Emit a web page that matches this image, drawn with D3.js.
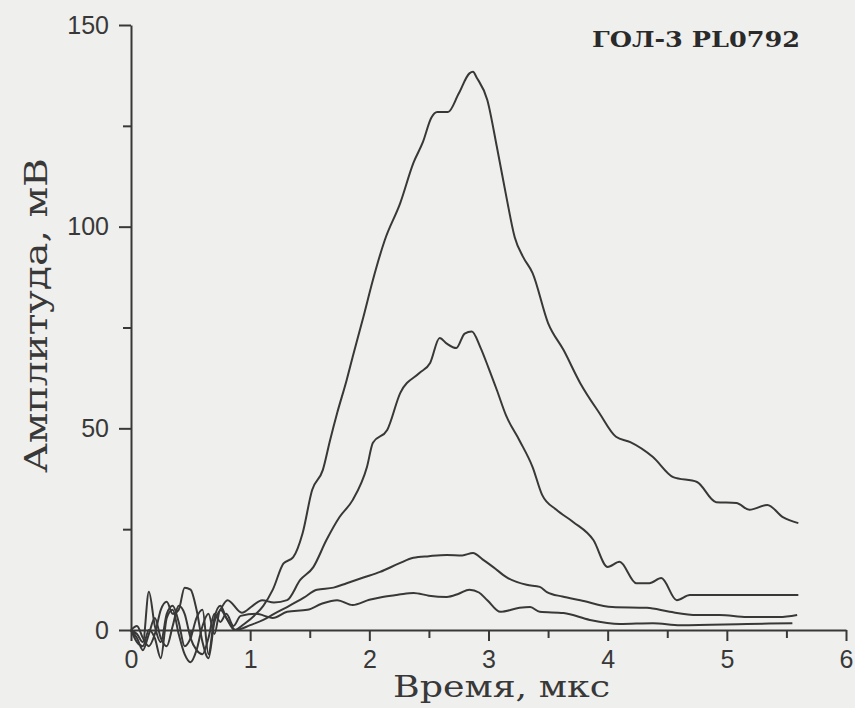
<!DOCTYPE html>
<html>
<head>
<meta charset="utf-8">
<script src="https://cdn.jsdelivr.net/npm/d3@7"></script>
<style>
  html, body { margin: 0; padding: 0; background: #efefed; }
  svg { display: block; }
</style>
</head>
<body>
<svg id="chart" width="855" height="708"></svg>
<script>
// ---- data (time in µs, amplitude in mV) ----
const titleText = "ГОЛ-3 PL0792";
const xLabel = "Время, мкс";
const yLabel = "Амплитуда, мВ";
const xMajorTicks = [0, 1, 2, 3, 4, 5, 6];
const xMinorTicks = [0.5, 1.5, 2.5, 3.5, 4.5, 5.5];
const yMajorTicks = [0, 50, 100, 150];
const yMinorTicks = [25, 75, 125];

const tA = [0,0.05,0.1,0.15,0.2,0.25,0.3,0.35,0.4,0.45,0.5,0.55,0.6,0.65,0.7,0.75,0.8,0.87,0.95,1.05,1.11,1.19,1.28,1.36,1.44,1.52,1.61,1.67,1.73,1.81,1.86,1.95,2.03,2.13,2.26,2.37,2.45,2.52,2.57,2.66,2.75,2.84,2.87,2.9,2.99,3.07,3.15,3.22,3.29,3.37,3.5,3.63,3.77,3.93,4.07,4.19,4.38,4.55,4.75,4.91,5.08,5.19,5.34,5.47,5.6];
const vA = [0,-1,-3,9.5,1,-3,4,6,2,-4,-2,3,5,-6,3,6,3,0,1.5,4,6,10,16.5,18,24,34.7,39.7,47,53.8,62,67.7,77.6,86.8,96.7,105.9,115.8,121,127,128.4,128.4,133,138,138.4,137,131.4,119.8,107.4,97.4,92.5,88.5,76.1,69.4,61.2,53.8,47.9,46.6,42.9,37.9,36.7,31.7,31.5,29.8,31,28,26.5];

const tB = [0,0.05,0.1,0.15,0.2,0.25,0.3,0.35,0.4,0.45,0.5,0.55,0.6,0.65,0.7,0.75,0.81,0.93,1.02,1.1,1.2,1.31,1.42,1.53,1.64,1.75,1.86,1.98,2.03,2.15,2.26,2.42,2.51,2.59,2.65,2.73,2.8,2.86,2.93,3.0,3.07,3.15,3.26,3.37,3.45,3.57,3.71,3.88,4.0,4.1,4.24,4.35,4.45,4.58,4.69,5.6];
const vB = [0,1,-2,-4,-1,5,7,4,5,10.5,10,5,-3,-7,2,5,7.4,4.3,6,7.4,6.8,7.4,12.4,15.6,22.3,28,32.2,40.4,46.4,49.6,58.8,63.7,66.2,72.4,71,69.9,73.5,74,70.2,65,59.5,53,47,40.4,33.5,29.8,26.8,22.3,15.6,16.9,11.6,11.6,12.9,7.4,8.7,8.7];

const tC = [0,0.05,0.1,0.15,0.2,0.25,0.3,0.35,0.4,0.45,0.5,0.55,0.6,0.65,0.7,0.75,0.8,0.88,1.0,1.11,1.2,1.31,1.45,1.56,1.7,1.81,1.95,2.09,2.25,2.37,2.5,2.65,2.78,2.87,2.95,3.04,3.15,3.32,3.43,3.49,3.62,3.77,4.04,4.33,4.52,4.75,4.94,5.17,5.44,5.59];
const vC = [0,-3,-4,0,-2,-7,3,5,-1,-6,-8,-5,1,4,-1,5,3,0,1.2,2.5,4,5.7,8,10,10.5,11.6,13,14.4,16.5,17.9,18.3,18.6,18.5,19.1,17.5,15.6,13.1,11.2,10.7,9.4,8.3,7.4,5.7,5.5,4.5,3.7,3.7,3.2,3.2,3.7];

const tD = [0,0.05,0.1,0.15,0.2,0.25,0.3,0.35,0.4,0.45,0.5,0.55,0.6,0.65,0.7,0.75,0.8,0.86,0.92,1.05,1.19,1.31,1.48,1.6,1.73,1.86,2.0,2.11,2.25,2.37,2.5,2.65,2.75,2.84,2.92,2.99,3.1,3.26,3.35,3.43,3.63,3.85,4.1,4.38,4.61,5.17,5.55];
const vD = [0,-2,-5,-1,3,-2,-4,1,6,4,-2,-5,-6,-2,4,2,4,1,3.5,4,3,4.5,5,6.5,7.4,6.2,7.5,8.2,8.8,9.2,8.5,8.2,9,10,9.3,7.4,4.5,5.5,5.7,4.5,4.2,2.5,1.5,1.7,1.2,1.5,1.7];

// ---- drawing ----
const svg = d3.select("#chart");
const ink = "#383838";
svg.append("rect").attr("width", 855).attr("height", 708).attr("fill", "#efefed");

const x = d3.scaleLinear().domain([0, 6]).range([131, 846]);
const y = d3.scaleLinear().domain([0, 150]).range([630, 25]);

// x axis
const gx = svg.append("g").attr("transform", `translate(0,${y(0)})`);
gx.call(d3.axisBottom(x).tickValues(xMajorTicks).tickSize(11).tickSizeOuter(0).tickPadding(9).tickFormat(d3.format("d")));
const gx2 = svg.append("g").attr("transform", `translate(0,${y(0)})`);
gx2.call(d3.axisBottom(x).tickValues(xMinorTicks).tickSize(8).tickSizeOuter(0).tickFormat(""));
gx2.select(".domain").remove();

// y axis
const gy = svg.append("g").attr("transform", `translate(${x(0)},0)`);
gy.call(d3.axisLeft(y).tickValues(yMajorTicks).tickSize(12).tickSizeOuter(0).tickPadding(10).tickFormat(d3.format("d")));
const gy2 = svg.append("g").attr("transform", `translate(${x(0)},0)`);
gy2.call(d3.axisLeft(y).tickValues(yMinorTicks).tickSize(8).tickSizeOuter(0).tickFormat(""));
gy2.select(".domain").remove();

svg.selectAll(".domain, .tick line").attr("stroke", ink).attr("stroke-width", 2);
svg.selectAll(".tick text")
  .attr("fill", ink)
  .style("font-family", "'Liberation Sans', Arial, sans-serif")
  .style("font-size", "25px");

// lines
const line = d3.line().x(d => x(d[0])).y(d => y(d[1])).curve(d3.curveMonotoneX);
const series = [[tA, vA], [tB, vB], [tC, vC], [tD, vD]];
series.forEach(([t, v]) => {
  const pts = t.map((ti, i) => [ti, v[i]]);
  svg.append("path").datum(pts)
    .attr("d", line)
    .attr("fill", "none")
    .attr("stroke", ink)
    .attr("stroke-width", 2)
    .attr("stroke-linejoin", "round");
});

// title
svg.append("text")
  .attr("x", 592).attr("y", 47)
  .attr("textLength", 208).attr("lengthAdjust", "spacingAndGlyphs")
  .attr("fill", "#2a2a2a")
  .style("font-family", "'DejaVu Serif', serif")
  .style("font-weight", "bold")
  .style("font-size", "23px")
  .text(titleText);

// axis titles
svg.append("text")
  .attr("x", 393).attr("y", 697)
  .attr("textLength", 217).attr("lengthAdjust", "spacingAndGlyphs")
  .attr("fill", ink)
  .style("font-family", "'DejaVu Serif', serif")
  .style("font-size", "29px")
  .text(xLabel);

svg.append("text")
  .attr("transform", "translate(47,473) rotate(-90)")
  .attr("x", 0).attr("y", 0)
  .attr("textLength", 315).attr("lengthAdjust", "spacingAndGlyphs")
  .attr("fill", ink)
  .style("font-family", "'DejaVu Serif', serif")
  .style("font-size", "31px")
  .text(yLabel);
</script>
</body>
</html>
